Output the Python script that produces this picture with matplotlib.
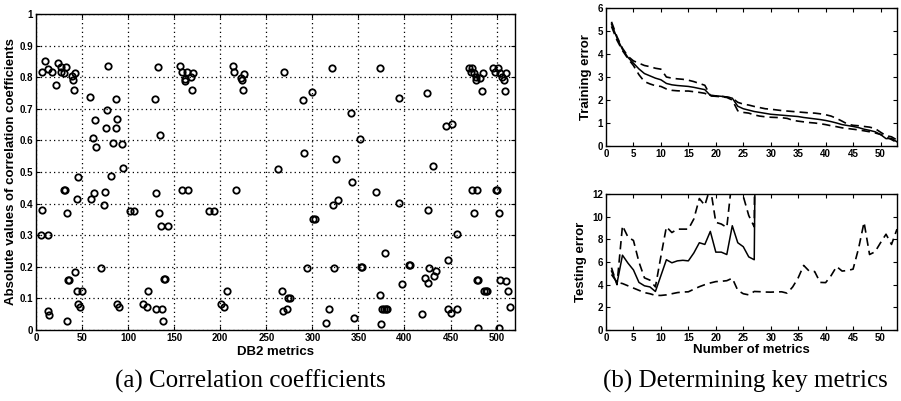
import numpy as np
import matplotlib
matplotlib.use("Agg")
import matplotlib.pyplot as plt

plt.rcParams['font.family'] = ['Liberation Sans', 'DejaVu Sans']

# ---------------- data: (a) correlation coefficients ----------------
metric_x = [
    10, 7, 13, 17.6, 24, 26.6, 27.5, 33, 30, 38.7, 42, 40, 41, 22, 78, 59, 86.5, 64, 77, 88,
    76, 87, 62, 65, 84, 93, 94, 45.5, 81.5, 30.5, 31.5, 63.5, 75, 44, 60, 74, 6, 34, 5, 13,
    71, 42, 35, 36, 45, 50, 45.5, 48, 13, 14, 34, 88, 89.6, 102, 106, 129, 132.5, 135, 130, 133.8,
    135.6, 143, 122, 116.7, 120, 130, 136.5, 138.5, 139.5, 138, 156, 158, 163.5, 161.7, 162, 168, 170, 169, 158, 165,
    187.4, 193, 213.5, 215, 217, 201, 204, 207,
    222.6, 223.5, 225.7, 224.8, 269, 290, 299.6, 320.8, 342, 351.8, 373, 393.8, 424.8, 291, 263, 326, 343, 368.6, 394, 426,
    322, 328, 301.2, 302.4, 378.8, 294, 324, 352.5, 354, 405, 406.5, 427, 422.6, 426, 397, 266.8, 274, 275.3, 268.6, 273,
    318.6, 314.6, 345, 373, 375.5, 377.5, 379.5, 381.5, 374, 418.6,
    445.6, 451.3, 430.7, 456.6, 447, 431.6, 433.8, 447, 450, 457, 470, 473, 472, 475, 477.6, 477.6, 482, 485, 484.6, 496.5,
    501.8, 498.7, 504, 506, 508, 510.5, 509.6, 473, 479, 499, 500.2, 475.4, 503, 478.5, 480, 486, 488, 490, 504, 510.5,
    512.7, 515, 480, 502.6,
]
corr_abs = [
    0.85, 0.818, 0.825, 0.818, 0.845, 0.832, 0.818, 0.832, 0.813, 0.804, 0.813, 0.79, 0.76, 0.776, 0.834, 0.736, 0.73, 0.665, 0.695, 0.667,
    0.64, 0.64, 0.607, 0.58, 0.592, 0.59, 0.513, 0.484, 0.486, 0.444, 0.444, 0.432, 0.438, 0.416, 0.413, 0.395, 0.379, 0.37, 0.30, 0.30,
    0.195, 0.184, 0.159, 0.159, 0.125, 0.125, 0.081, 0.073, 0.06, 0.048, 0.028, 0.081, 0.073, 0.377, 0.377, 0.731, 0.832, 0.618, 0.434, 0.37,
    0.328, 0.328, 0.125, 0.083, 0.073, 0.065, 0.065, 0.16, 0.16, 0.028, 0.834, 0.815, 0.818, 0.794, 0.787, 0.802, 0.813, 0.758, 0.444, 0.444,
    0.376, 0.376, 0.834, 0.815, 0.444, 0.081, 0.073, 0.125,
    0.797, 0.79, 0.81, 0.758, 0.815, 0.728, 0.754, 0.83, 0.686, 0.604, 0.83, 0.734, 0.749, 0.559, 0.511, 0.54, 0.468, 0.437, 0.402, 0.381,
    0.396, 0.41, 0.352, 0.352, 0.244, 0.197, 0.197, 0.199, 0.199, 0.207, 0.207, 0.196, 0.164, 0.148, 0.144, 0.122, 0.101, 0.101, 0.059, 0.065,
    0.066, 0.022, 0.037, 0.11, 0.067, 0.067, 0.067, 0.067, 0.02, 0.052,
    0.645, 0.652, 0.52, 0.304, 0.22, 0.172, 0.186, 0.067, 0.053, 0.067, 0.83, 0.83, 0.817, 0.814, 0.80, 0.79, 0.797, 0.812, 0.757, 0.83,
    0.83, 0.817, 0.812, 0.80, 0.79, 0.812, 0.757, 0.444, 0.444, 0.444, 0.444, 0.37, 0.37, 0.157, 0.157, 0.125, 0.123, 0.125, 0.158, 0.155,
    0.124, 0.074, 0.007, 0.007,
]

# ---------------- data: (b) determining key metrics ----------------
n_metrics = list(range(1, 54))
train_mean = [5.3, 4.7, 4.2, 3.85, 3.6, 3.35, 3.15, 3.05, 2.95, 2.88, 2.72, 2.66, 2.63, 2.61, 2.59, 2.55, 2.5, 2.45, 2.2, 2.18,
              2.16, 2.13, 2.08, 1.73, 1.62, 1.56, 1.5, 1.46, 1.42, 1.38, 1.36, 1.34, 1.32, 1.3, 1.28, 1.24, 1.21, 1.18, 1.15, 1.11,
              1.06, 1.0, 0.93, 0.89, 0.85, 0.8, 0.73, 0.68, 0.62, 0.5, 0.32, 0.33, 0.18]
train_upper = [5.4, 4.75, 4.25, 3.9, 3.7, 3.6, 3.5, 3.45, 3.38, 3.34, 3.0, 2.95, 2.92, 2.9, 2.86, 2.8, 2.72, 2.64, 2.2, 2.18,
               2.16, 2.13, 2.08, 1.9, 1.82, 1.78, 1.72, 1.67, 1.62, 1.6, 1.57, 1.54, 1.52, 1.5, 1.48, 1.46, 1.44, 1.43, 1.4, 1.36,
               1.3, 1.2, 1.08, 0.95, 0.9, 0.88, 0.85, 0.82, 0.76, 0.6, 0.45, 0.4, 0.26]
train_lower = [5.2, 4.6, 4.15, 3.8, 3.5, 3.1, 2.8, 2.7, 2.62, 2.59, 2.48, 2.42, 2.4, 2.39, 2.39, 2.36, 2.33, 2.29, 2.18, 2.16,
               2.14, 2.11, 2.0, 1.53, 1.46, 1.43, 1.35, 1.3, 1.27, 1.25, 1.24, 1.23, 1.2, 1.12, 1.08, 1.05, 1.02, 1.0, 0.97, 0.93,
               0.88, 0.84, 0.79, 0.76, 0.73, 0.7, 0.66, 0.62, 0.57, 0.5, 0.4, 0.28, 0.15]

test_n = list(range(1, 29))
test_mean = [5.2, 4.1, 6.6, 5.9, 5.3, 4.2, 3.9, 3.8, 3.4, 4.8, 6.2, 5.93, 6.1, 6.15, 6.1, 6.8, 7.7, 7.55, 8.7, 6.87,
             6.87, 6.66, 9.2, 7.7, 7.35, 6.45, 6.2, 60.0]
test_upper = [5.5, 4.0, 9.2, 8.2, 7.9, 6.0, 4.6, 4.4, 3.8, 6.5, 9.1, 8.6, 8.9, 8.9, 8.9, 9.8, 11.6, 11.0, 12.6, 9.5,
              9.35, 9.05, 13.5, 14.5, 11.8, 10.1, 9.1, 80.0]
test_lower = [4.9, 4.2, 4.1, 3.9, 3.7, 3.5, 3.3, 3.2, 3.05, 3.05, 3.1, 3.2, 3.3, 3.35, 3.37, 3.6, 3.82, 4.0, 4.15, 4.27,
              4.3, 4.35, 4.57, 3.5, 3.2, 3.1, 3.4, 3.38, 3.35, 3.34, 3.36, 3.37, 3.25, 3.8, 4.6, 5.7, 5.2, 5.16, 4.2, 4.18,
              4.8, 5.6, 5.2, 5.25, 5.37, 7.2, 9.5, 6.66, 6.9, 7.7, 8.45, 7.55, 8.9]

left_xticks = list(range(0, 501, 50))
left_yticks = [0, 0.1, 0.2, 0.3, 0.4, 0.5, 0.6, 0.7, 0.8, 0.9, 1]
left_yticklabels = ['0', '0.1', '0.2', '0.3', '0.4', '0.5', '0.6', '0.7', '0.8', '0.9', '1']
right_xticks = list(range(0, 51, 5))

# ---------------- figure ----------------
W, H = 901, 401
fig = plt.figure(figsize=(W / 100, H / 100), dpi=100)


def box(l, t, r, b):
    return [l / W, 1 - b / H, (r - l) / W, (b - t) / H]


tick_fs = 7
lab_fs = 9.5


def style(ax):
    ax.tick_params(direction='in', top=True, right=True, length=3, width=0.8,
                   labelsize=tick_fs, pad=2)
    for lbl in ax.get_xticklabels() + ax.get_yticklabels():
        lbl.set_fontweight('bold')
    for s in ax.spines.values():
        s.set_linewidth(1.0)


# (a)
ax1 = fig.add_axes(box(36, 14, 515, 330))
ax1.plot(metric_x, corr_abs, linestyle='none', marker='o', markersize=4.6,
         markerfacecolor='none', markeredgecolor='black', markeredgewidth=1.3)
ax1.set_xlim(0, 520)
ax1.set_ylim(0, 1)
ax1.set_xticks(left_xticks)
ax1.set_yticks(left_yticks)
ax1.set_yticklabels(left_yticklabels)
ax1.grid(True, linestyle=(0, (1, 2.5)), color='black', linewidth=0.9)
ax1.set_axisbelow(True)
style(ax1)
ax1.set_xlabel('DB2 metrics', fontsize=lab_fs, labelpad=2, fontweight='bold')
ax1.set_ylabel('Absolute values of correlation coefficients', fontsize=lab_fs, labelpad=2,
               fontweight='bold')

dash = (0, (5, 3))

# (b) top
ax2 = fig.add_axes(box(606, 8, 897, 146))
ax2.plot(n_metrics, train_upper, color='black', linestyle=dash, linewidth=1.2)
ax2.plot(n_metrics, train_lower, color='black', linestyle=dash, linewidth=1.2)
ax2.plot(n_metrics, train_mean, color='black', linestyle='-', linewidth=1.1)
ax2.set_xlim(0, 53)
ax2.set_ylim(0, 6)
ax2.set_xticks(right_xticks)
ax2.set_yticks(range(0, 7))
style(ax2)
ax2.set_ylabel('Training error', fontsize=lab_fs, labelpad=4, fontweight='bold')

# (b) bottom
ax3 = fig.add_axes(box(606, 194, 897, 330))
ax3.plot(test_n, test_upper, color='black', linestyle=dash, linewidth=1.2)
ax3.plot(n_metrics, test_lower, color='black', linestyle=dash, linewidth=1.2)
ax3.plot(test_n, test_mean, color='black', linestyle='-', linewidth=1.1)
ax3.set_xlim(0, 53)
ax3.set_ylim(0, 12)
ax3.set_xticks(right_xticks)
ax3.set_yticks(range(0, 13, 2))
style(ax3)
ax3.set_xlabel('Number of metrics', fontsize=lab_fs, labelpad=1, fontweight='bold')
ax3.set_ylabel('Testing error', fontsize=lab_fs, labelpad=4, fontweight='bold')

# captions
fig.text(250 / W, 1 - 381 / H, '(a) Correlation coefficients', ha='center', va='center',
         fontsize=18, family='Liberation Serif')
fig.text(745 / W, 1 - 381 / H, '(b) Determining key metrics', ha='center', va='center',
         fontsize=18, family='Liberation Serif')

fig.savefig('out.png', dpi=100)
